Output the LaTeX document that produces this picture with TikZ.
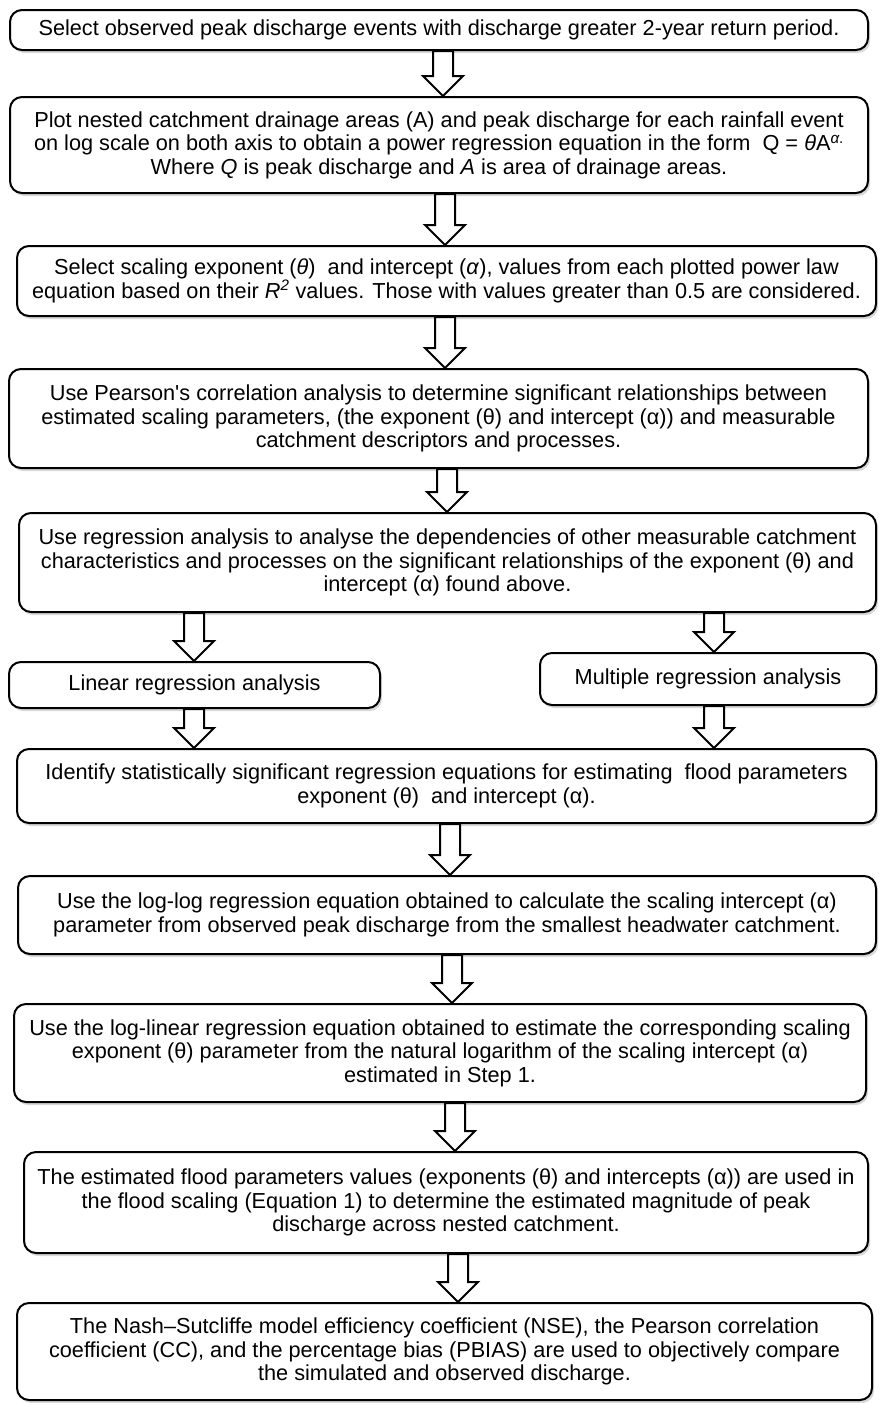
\documentclass[tikz,border=0pt]{standalone}
\usepackage{fontspec}
\setmainfont{Liberation Sans}[Ligatures=TeXOff]
\usetikzlibrary{calc,shadows}

\begin{document}
\begin{tikzpicture}[x=1pt,y=-1pt,
  stepbox/.style={draw,line width=2pt,rounded corners=12pt,fill=white,align=center,inner sep=0pt,
    font=\fontsize{21.7}{23.5}\selectfont,drop shadow={shadow xshift=2pt,shadow yshift=-3pt,opacity=0.3}},
  blockarrow/.style={draw,line width=2pt,fill=white,line join=miter}]
\path[use as bounding box,fill=white] (0,0) rectangle (879,1403);
\node[stepbox,minimum width=858pt,minimum height=40pt] (b1) at (439,30) {Select observed peak discharge events with discharge greater 2-year return period.};
\node[stepbox,minimum width=858pt,minimum height=96pt] (b2) at (439,145) {Plot nested catchment drainage areas (A) and peak discharge for each rainfall event\\on log scale on both axis to obtain a power regression equation in the form\ \ Q = \textit{θ}A\textsuperscript{\textit{α}.}\\Where \textit{Q} is peak discharge and \textit{A} is area of drainage areas.};
\node[stepbox,minimum width=859pt,minimum height=70pt] (b3) at (446.5,281) {Select scaling exponent (\textit{θ})\ \ and intercept (\textit{α}), values from each plotted power law\\equation based on their \textit{R}\textsuperscript{\textit{2}} values. Those with values greater than 0.5 are considered.};
\node[stepbox,minimum width=859pt,minimum height=99pt] (b4) at (438.5,418.5) {Use Pearson's correlation analysis to determine significant relationships between\\estimated scaling parameters, (the exponent (θ) and intercept (α)) and measurable\\catchment descriptors and processes.};
\node[stepbox,minimum width=857pt,minimum height=99pt] (b5) at (447.5,562.5) {Use regression analysis to analyse the dependencies of other measurable catchment\\characteristics and processes on the significant relationships of the exponent (θ) and\\intercept (α) found above.};
\node[stepbox,minimum width=371pt,minimum height=46pt] (lin) at (194.5,685) {Linear regression analysis};
\node[stepbox,minimum width=336pt,minimum height=52pt] (mul) at (708,679) {Multiple regression analysis};
\node[stepbox,minimum width=859pt,minimum height=74pt] (b7) at (446.5,786) {Identify statistically significant regression equations for estimating\ \ flood parameters\\exponent (θ)\ \ and intercept (α).};
\node[stepbox,minimum width=858pt,minimum height=78pt] (b8) at (447,915) {Use the log-log regression equation obtained to calculate the scaling intercept (α)\\parameter from observed peak discharge from the smallest headwater catchment.};
\node[stepbox,minimum width=852pt,minimum height=98pt] (b9) at (440,1053) {Use the log-linear regression equation obtained to estimate the corresponding scaling\\exponent (θ) parameter from the natural logarithm of the scaling intercept (α)\\estimated in Step 1.};
\node[stepbox,minimum width=844pt,minimum height=101pt] (b10) at (446,1202.5) {The estimated flood parameters values (exponents (θ) and intercepts (α)) are used in\\the flood scaling (Equation 1) to determine the estimated magnitude of peak\\discharge across nested catchment.};
\node[stepbox,minimum width=855pt,minimum height=97pt] (b11) at (444.5,1351.5) {The Nash–Sutcliffe model efficiency coefficient (NSE), the Pearson correlation\\coefficient (CC), and the percentage bias (PBIAS) are used to objectively compare\\the simulated and observed discharge.};
\foreach \ax/\from/\to in {443/b1/b2,445/b2/b3,445/b3/b4,447/b4/b5,194/b5/lin,714/b5/mul,194/lin/b7,714/mul/b7,450/b7/b8,452/b8/b9,455/b9/b10,458/b10/b11}
  \draw[blockarrow] let \p1=(\from.south),\p2=(\to.north) in
    (\ax pt-10pt,\y1) -- (\ax pt+10pt,\y1) -- (\ax pt+10pt,\y2+20pt) -- (\ax pt+20pt,\y2+20pt)
    -- (\ax pt,\y2) -- (\ax pt-20pt,\y2+20pt) -- (\ax pt-10pt,\y2+20pt) -- cycle;
\end{tikzpicture}
\end{document}
